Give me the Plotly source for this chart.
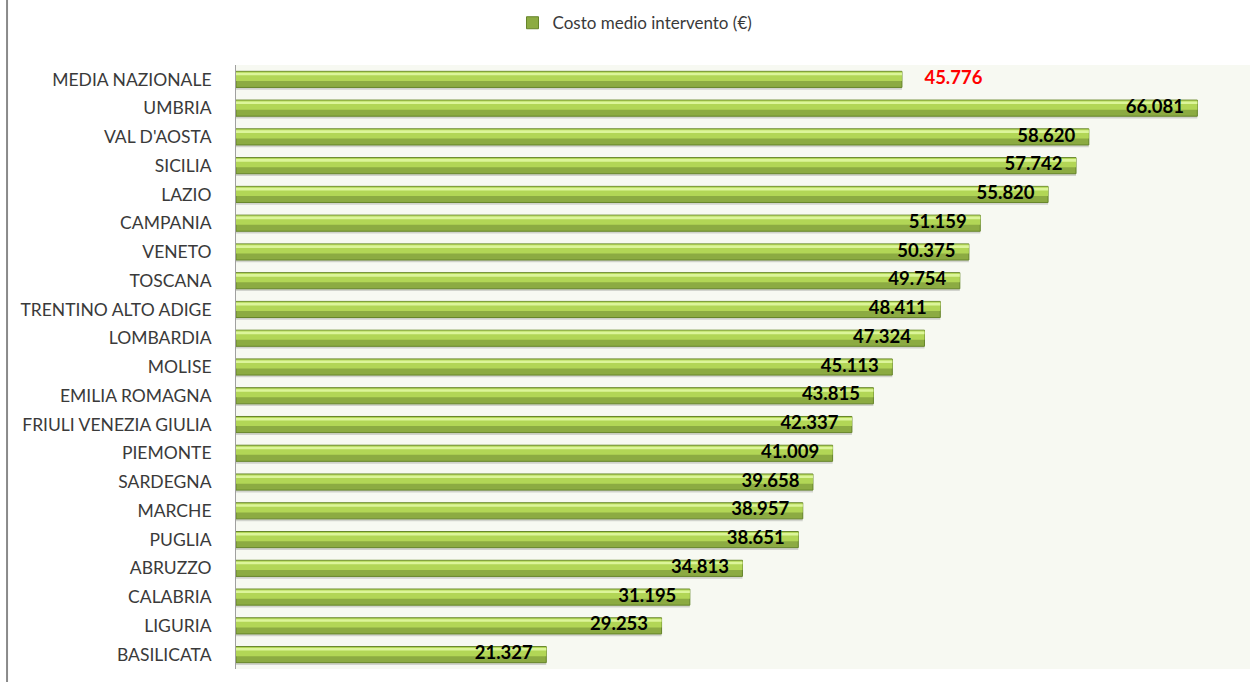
import plotly.graph_objects as go

regions = ["MEDIA NAZIONALE", "UMBRIA", "VAL D'AOSTA", "SICILIA", "LAZIO", "CAMPANIA",
           "VENETO", "TOSCANA", "TRENTINO ALTO ADIGE", "LOMBARDIA", "MOLISE",
           "EMILIA ROMAGNA", "FRIULI VENEZIA GIULIA", "PIEMONTE", "SARDEGNA",
           "MARCHE", "PUGLIA", "ABRUZZO", "CALABRIA", "LIGURIA", "BASILICATA"]
costs = [45.776, 66.081, 58.620, 57.742, 55.820, 51.159, 50.375, 49.754, 48.411,
         47.324, 45.113, 43.815, 42.337, 41.009, 39.658, 38.957, 38.651, 34.813,
         31.195, 29.253, 21.327]
series_name = "Costo medio intervento (€)"
highlight = "MEDIA NAZIONALE"

labels = [f"{v:.3f}" for v in costs]
text = [("     " + t) if r == highlight else (t + "   ") for r, t in zip(regions, labels)]
textpos = ["middle right" if r == highlight else "middle left" for r in regions]
tcolors = ["#ff0000" if r == highlight else "#000000" for r in regions]

fig = go.Figure()
# shadow
fig.add_trace(go.Bar(
    y=regions, x=costs, orientation="h", width=0.56, offset=-0.2,
    marker=dict(color="rgba(60,60,60,0.2)", line=dict(width=0)),
    showlegend=False, hoverinfo="skip"))
# main bar (darker lower part)
fig.add_trace(go.Bar(
    y=regions, x=costs, orientation="h", name=series_name,
    width=0.56, offset=-0.28,
    marker=dict(color="#8cab42", line=dict(color="#66852a", width=1)),
    hoverinfo="x+y"))
# upper lighter band
fig.add_trace(go.Bar(
    y=regions, x=costs, orientation="h", width=0.32, offset=-0.265,
    marker=dict(color="#b2d656", line=dict(width=0)),
    showlegend=False, hoverinfo="skip"))
# highlight stripe
fig.add_trace(go.Bar(
    y=regions, x=costs, orientation="h", width=0.09, offset=-0.23,
    marker=dict(color="#dcf59a", line=dict(width=0)),
    showlegend=False, hoverinfo="skip"))
# value labels
fig.add_trace(go.Scatter(
    y=regions, x=costs, mode="text", text=text, textposition=textpos,
    textfont=dict(family="Lato", size=18.5, color=tcolors, weight="bold"),
    showlegend=False, hoverinfo="skip", cliponaxis=False))

fig.update_layout(
    width=1250, height=682,
    barmode="overlay",
    paper_bgcolor="white",
    plot_bgcolor="#f7f9f2",
    margin=dict(l=236, r=0, t=65, b=13),
    font=dict(family="Lato", size=17, color="#3a3a3a"),
    legend=dict(orientation="h", xref="container", yref="container",
                x=0.508, y=0.966, xanchor="center", yanchor="middle",
                font=dict(family="Lato", size=17, color="#3a3a3a"),
                bgcolor="rgba(0,0,0,0)", itemwidth=30),
    showlegend=True,
)
fig.update_xaxes(range=[0, 69.7], showgrid=False, showticklabels=False,
                 zeroline=False, showline=False, fixedrange=True)
fig.update_yaxes(range=[20.5, -0.5], categoryorder="array", categoryarray=regions,
                 showgrid=False, showline=True, linecolor="#a0a0a0", linewidth=1,
                 ticks="", ticklabelstandoff=20, fixedrange=True,
                 tickfont=dict(family="Lato", size=17.5, color="#3a3a3a"))

fig.add_shape(type="line", xref="paper", yref="paper",
              x0=-0.2258, x1=-0.2258, y0=-0.03, y1=1.12,
              line=dict(color="#8a8a8a", width=2))

fig.write_html("out.html", post_script="document.body.style.margin='0';",
               config={"displayModeBar": False})
